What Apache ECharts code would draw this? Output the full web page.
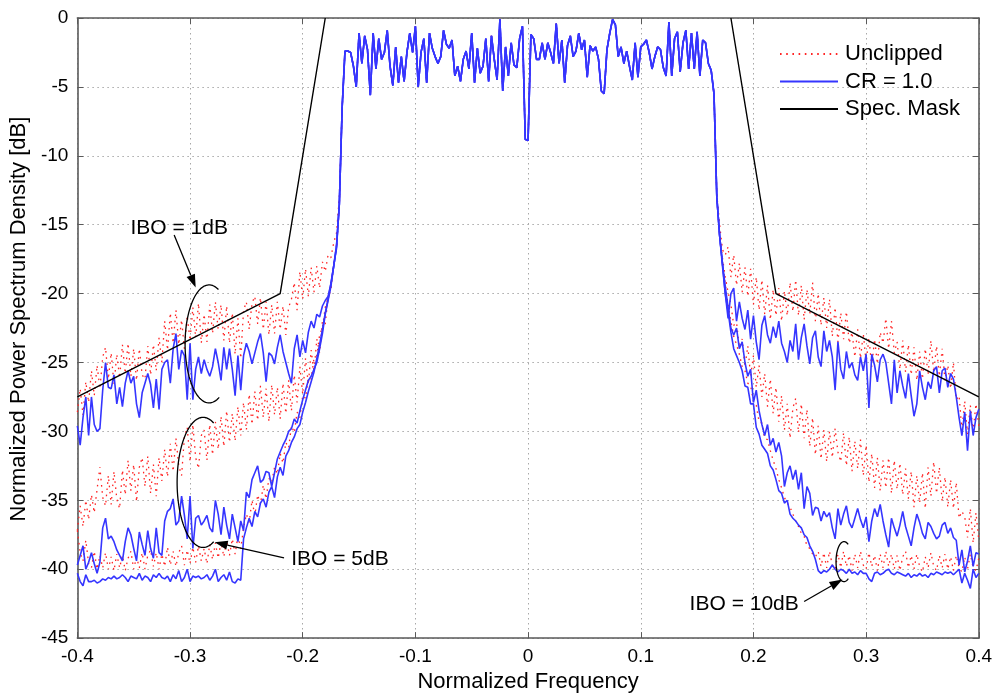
<!DOCTYPE html>
<html><head><meta charset="utf-8">
<script src="https://cdn.jsdelivr.net/npm/echarts@6/dist/echarts.min.js"></script>
<style>html,body{margin:0;padding:0;background:#fff}#c{width:995px;height:698px}</style>
</head><body><div id="c"></div>
<script>
// Frequency grid: x = -0.4 + k*0.0025, k = 0..320
const X_START = -0.4, X_STEP = 0.0025;

// In-band spectrum (shared by all curves), x = -0.1625 .. 0.1625
const inBand = [-2.4,-2.4,-2.5,-3.5,-5.0,-1.1,-3.3,-1.3,-2.3,-5.6,
 -1.1,-3.7,-1.5,-3.0,-2.5,-0.9,-3.5,-4.9,-2.1,-4.7,
 -2.8,-4.6,-2.5,-1.1,-2.5,-0.6,-5.0,-2.5,-1.5,-4.7,
 -1.1,-2.2,-2.8,-3.3,-2.8,-0.9,-1.9,-2.2,-1.6,-4.2,
 -3.5,-4.6,-3.0,-2.4,-3.7,-1.1,-4.7,-2.2,-4.0,-3.5,
 -1.5,-4.6,-1.3,-3.0,-4.5,-0.1,-5.3,-2.1,-4.2,-1.8,
 -3.4,-3.6,-1.5,-0.6,-8.8,-8.9,-1.2,-1.5,-3.0,-3.0,
 -1.8,-3.0,-1.8,-2.5,-3.3,-0.4,-3.3,-1.6,-4.7,-2.0,
 -1.3,-2.8,-2.4,-1.1,-2.3,-1.6,-4.3,-2.0,-2.4,-2.1,
 -3.0,-5.3,-5.5,-2.3,-1.1,-0.1,-0.5,-2.8,-2.1,-3.3,
 -2.4,-3.5,-4.5,-1.8,-4.3,-2.1,-1.9,-1.6,-2.5,-3.7,
 -2.8,-2.1,-2.3,-3.6,-4.2,-0.3,-4.2,-1.5,-1.0,-3.9,
 -1.8,-0.9,-3.7,-1.1,-3.7,-1.0,-4.2,-1.6,-1.8,-3.3,
 -3.8];

// Out-of-band, left side x = -0.4 .. -0.165
const cr_ibo1_left = [-29.6,-31.0,-29.0,-27.5,-30.3,-27.5,-29.5,-30.0,-29.8,-27.0,
 -25.0,-26.8,-26.9,-25.9,-28.0,-26.8,-28.2,-26.5,-25.6,-26.5,
 -26.0,-28.0,-29.0,-27.2,-26.5,-25.8,-26.6,-28.3,-26.2,-28.4,
 -25.5,-25.0,-24.8,-26.5,-24.0,-22.9,-25.5,-24.1,-24.5,-27.7,
 -23.6,-27.7,-25.5,-24.6,-25.8,-24.8,-25.5,-26.0,-25.3,-24.0,
 -25.0,-26.3,-23.9,-25.5,-24.0,-25.5,-27.4,-24.5,-27.0,-24.5,
 -23.6,-24.2,-25.1,-24.3,-23.5,-22.9,-24.3,-26.4,-24.3,-24.5,
 -25.1,-23.9,-23.0,-24.2,-25.0,-25.8,-26.5,-24.0,-23.0,-24.6,
 -23.4,-24.3,-22.8,-22.0,-22.5,-21.5,-21.7,-20.9,-20.5,-20.2,
 -19.3,-18.0,-16.7,-13.5,-6.5];
const unc_ibo1_left = [-28.6,-26.9,-28.8,-26.4,-27.9,-25.6,-27.4,-25.2,-26.9,-24.6,
 -23.9,-26.2,-24.3,-26.6,-24.4,-26.1,-23.7,-25.8,-23.6,-26.0,
 -24.0,-26.3,-24.0,-25.9,-26.2,-23.8,-25.9,-23.7,-25.6,-23.2,
 -25.0,-22.0,-24.1,-21.4,-23.6,-21.2,-23.7,-21.9,-24.0,-21.6,
 -23.4,-21.0,-23.2,-20.7,-23.6,-21.5,-23.5,-20.8,-22.9,-20.6,
 -22.6,-20.8,-23.4,-20.9,-23.6,-21.4,-24.4,-21.8,-24.7,-21.2,
 -20.6,-22.6,-20.7,-20.2,-22.2,-20.3,-22.6,-20.6,-23.0,-20.8,
 -22.9,-20.6,-22.6,-20.9,-23.0,-21.0,-20.4,-19.2,-21.2,-18.4,
 -20.4,-18.2,-20.2,-18.1,-19.9,-18.0,-19.6,-17.7,-18.4,-17.2,
 -17.4,-16.3,-15.6,-13.0,-6.5];
const cr_ibo5_left = [-39.7,-39.0,-38.3,-40.0,-39.5,-38.8,-39.6,-40.3,-39.5,-37.0,
 -36.3,-37.8,-37.6,-38.0,-38.6,-39.0,-39.4,-38.0,-37.0,-37.5,
 -38.5,-39.4,-37.3,-38.2,-39.0,-37.2,-38.5,-39.2,-37.0,-38.8,
 -39.0,-36.5,-35.8,-35.6,-34.9,-36.8,-36.5,-34.7,-36.1,-37.8,
 -34.7,-38.5,-36.3,-36.1,-36.8,-36.5,-36.1,-37.0,-37.3,-35.0,
 -36.0,-37.5,-35.5,-36.8,-37.8,-36.0,-37.0,-38.0,-36.5,-37.2,
 -34.4,-34.8,-33.5,-33.0,-32.5,-33.7,-33.5,-32.9,-33.0,-34.0,
 -33.0,-32.0,-31.5,-31.0,-30.6,-30.0,-29.8,-29.1,-29.4,-28.5,
 -27.7,-27.0,-26.3,-26.0,-25.5,-25.0,-24.0,-22.9,-21.5,-20.5,
 -19.5,-18.0,-16.5,-13.5,-6.5];
const unc_ibo5_left = [-37.2,-35.4,-36.9,-35.0,-36.4,-34.6,-35.9,-34.2,-32.6,-34.8,
 -35.4,-33.2,-35.3,-32.9,-34.9,-35.6,-32.8,-34.6,-32.1,-34.3,
 -32.4,-35.1,-32.6,-31.9,-34.0,-31.8,-34.5,-32.4,-34.7,-31.9,
 -33.6,-31.3,-33.3,-30.9,-32.9,-30.5,-32.5,-33.2,-30.4,-29.7,
 -32.2,-29.5,-31.9,-32.7,-30.3,-29.9,-32.1,-29.5,-31.7,-29.3,
 -31.3,-28.9,-31.1,-28.5,-30.8,-28.7,-30.7,-28.2,-30.3,-27.9,
 -29.9,-27.3,-29.5,-27.1,-29.2,-26.7,-29.0,-26.9,-29.3,-26.6,
 -28.8,-26.8,-29.1,-26.5,-28.7,-26.3,-28.5,-25.9,-27.9,-25.3,
 -27.3,-24.7,-26.6,-24.1,-25.7,-23.3,-24.3,-22.0,-22.2,-20.2,
 -19.8,-17.8,-16.8,-13.6,-6.6];
const cr_ibo10_left = [-40.3,-40.9,-41.2,-40.4,-40.9,-40.9,-40.8,-41.0,-40.9,-40.7,
 -40.8,-40.6,-40.7,-40.5,-40.7,-40.6,-40.4,-40.6,-40.9,-40.5,
 -40.6,-40.7,-40.3,-40.8,-40.5,-40.6,-40.9,-40.4,-40.6,-40.3,
 -40.6,-40.7,-40.5,-40.9,-40.4,-40.7,-40.1,-40.9,-40.6,-40.0,
 -40.9,-40.5,-40.6,-40.5,-40.7,-40.6,-40.4,-40.8,-40.5,-40.0,
 -40.9,-40.6,-40.4,-40.8,-40.2,-40.9,-41.0,-40.7,-40.8,-37.8,
 -37.0,-36.3,-36.9,-35.8,-36.2,-35.2,-34.9,-35.5,-34.4,-34.0,
 -34.8,-33.3,-32.6,-33.2,-31.8,-31.4,-30.8,-30.4,-29.8,-29.5,
 -28.6,-27.9,-27.1,-26.4,-25.7,-24.7,-23.7,-22.6,-21.4,-20.4,
 -19.3,-18.0,-16.6,-13.5,-6.5];
const unc_ibo10_left = [-37.2,-38.8,-39.4,-37.9,-39.6,-39.9,-38.7,-40.0,-39.0,-39.9,
 -38.8,-40.0,-39.1,-40.1,-38.9,-39.9,-39.0,-40.1,-39.2,-38.7,
 -40.0,-39.1,-39.9,-38.8,-40.0,-39.0,-38.6,-39.8,-38.8,-40.0,
 -38.9,-39.8,-38.4,-39.7,-38.7,-39.8,-38.8,-38.3,-39.7,-38.6,
 -39.6,-38.4,-39.5,-38.3,-39.4,-38.5,-39.6,-38.2,-39.3,-38.1,
 -39.2,-38.0,-39.1,-37.9,-39.0,-37.8,-38.9,-37.6,-38.5,-37.0,
 -36.0,-36.6,-35.0,-36.1,-34.6,-35.3,-33.9,-34.9,-33.4,-33.7,
 -32.6,-33.1,-31.6,-32.3,-30.8,-31.2,-29.6,-30.1,-28.6,-29.0,
 -27.4,-27.6,-26.1,-26.2,-24.7,-24.5,-23.0,-22.5,-21.0,-20.3,
 -19.2,-17.9,-16.5,-13.5,-6.5];

// Out-of-band, right side x = 0.165 .. 0.4
const cr_ibo1_right = [-5.5,-13.0,-15.8,-17.8,-20.0,-21.8,-20.0,-19.6,-22.0,-20.6,
 -21.8,-22.6,-21.2,-23.3,-21.6,-23.5,-24.8,-22.3,-21.6,-23.0,
 -23.6,-22.4,-23.2,-22.0,-23.6,-24.2,-25.0,-23.4,-24.2,-22.2,
 -24.8,-23.2,-22.2,-23.8,-25.1,-23.2,-22.7,-24.6,-25.3,-22.7,
 -24.2,-23.4,-24.6,-27.0,-23.5,-25.5,-26.2,-24.2,-25.4,-25.0,
 -25.9,-26.3,-24.6,-25.6,-24.4,-28.3,-24.4,-25.2,-26.4,-24.8,
 -24.4,-25.0,-26.5,-28.0,-24.8,-27.2,-25.6,-26.7,-27.6,-25.8,
 -27.4,-28.9,-28.0,-25.6,-26.8,-27.7,-26.4,-26.9,-25.6,-25.3,
 -27.2,-25.6,-25.4,-26.8,-25.8,-26.2,-27.5,-29.0,-30.3,-28.6,
 -31.4,-28.5,-30.3,-29.0,-28.4];
const unc_ibo1_right = [-5.5,-12.8,-15.0,-16.8,-17.2,-16.6,-18.8,-17.2,-19.4,-17.8,
 -19.9,-18.1,-20.2,-18.2,-20.8,-18.8,-21.2,-19.0,-21.5,-19.4,
 -21.9,-19.7,-21.6,-19.6,-22.0,-19.8,-21.6,-19.2,-21.3,-19.0,
 -21.6,-19.4,-21.9,-19.7,-21.5,-19.2,-22.0,-20.0,-22.3,-20.3,
 -22.5,-20.4,-23.1,-21.0,-23.5,-21.4,-23.3,-21.3,-23.6,-22.8,
 -24.6,-22.6,-24.7,-22.9,-25.0,-23.2,-25.3,-23.3,-25.1,-22.8,
 -23.6,-21.8,-24.0,-22.0,-24.3,-23.5,-25.5,-23.4,-25.7,-23.7,
 -25.9,-23.9,-26.3,-24.2,-26.2,-24.0,-25.9,-23.4,-25.7,-23.8,
 -26.0,-24.0,-26.3,-25.2,-26.9,-25.0,-27.7,-27.4,-29.9,-27.8,
 -30.2,-28.1,-30.0,-28.0,-29.6];
const cr_ibo5_right = [-5.5,-13.0,-15.8,-17.8,-19.5,-21.0,-22.5,-23.0,-22.5,-24.0,
 -23.5,-25.0,-26.0,-25.5,-27.9,-27.0,-28.5,-29.5,-30.3,-29.5,
 -31.0,-30.5,-31.5,-30.8,-31.8,-34.0,-33.0,-32.5,-33.5,-32.8,
 -34.2,-33.0,-35.6,-34.0,-34.5,-36.1,-35.5,-35.6,-36.5,-35.8,
 -36.2,-35.9,-37.0,-37.8,-35.6,-36.8,-36.0,-35.4,-36.6,-37.0,
 -36.3,-35.6,-36.4,-37.0,-36.2,-38.0,-36.5,-35.6,-36.2,-35.3,
 -36.5,-37.5,-38.4,-36.3,-37.0,-37.6,-36.8,-35.8,-36.9,-37.6,
 -38.3,-37.0,-36.0,-36.6,-37.4,-37.8,-36.6,-36.9,-37.4,-37.8,
 -37.6,-36.8,-36.6,-37.4,-37.0,-37.7,-37.9,-39.7,-38.6,-40.2,
 -39.4,-38.3,-39.8,-38.8,-38.9];
const unc_ibo5_right = [-5.5,-13.0,-15.8,-17.4,-18.8,-19.9,-20.8,-22.3,-22.1,-23.9,
 -23.3,-25.3,-23.8,-26.0,-24.5,-26.8,-25.2,-27.5,-25.8,-28.2,
 -26.2,-28.7,-26.8,-29.3,-27.4,-29.9,-28.0,-30.5,-28.3,-27.6,
 -30.1,-28.0,-30.5,-28.4,-31.1,-29.0,-31.7,-29.6,-32.0,-29.9,
 -32.2,-30.0,-31.9,-29.8,-31.5,-32.2,-30.1,-32.5,-30.4,-32.9,
 -30.7,-32.7,-30.6,-33.2,-31.0,-33.7,-31.6,-34.1,-31.9,-34.3,
 -32.1,-34.1,-31.9,-34.5,-32.1,-34.2,-32.3,-34.6,-32.7,-34.9,
 -32.9,-35.5,-33.2,-35.2,-33.0,-35.6,-32.6,-34.7,-32.2,-34.5,
 -32.6,-35.1,-33.3,-35.5,-33.5,-35.6,-33.7,-36.3,-35.8,-36.2,
 -37.7,-35.6,-38.1,-35.9,-37.9];
const cr_ibo10_right = [-5.5,-13.0,-15.8,-18.0,-20.0,-21.3,-22.8,-24.0,-24.5,-25.0,
 -25.6,-26.7,-26.8,-28.0,-28.0,-29.7,-30.2,-31.0,-31.3,-31.6,
 -32.5,-32.8,-33.5,-34.3,-34.5,-35.2,-35.0,-36.0,-36.3,-36.5,
 -36.8,-37.0,-37.5,-37.7,-38.3,-38.7,-39.3,-40.1,-40.3,-40.1,
 -40.2,-40.0,-39.7,-40.0,-40.2,-40.0,-40.1,-40.3,-40.0,-40.3,
 -40.2,-40.4,-40.1,-40.3,-40.3,-40.7,-40.9,-40.3,-40.2,-40.4,
 -40.3,-40.1,-40.0,-40.3,-40.4,-40.2,-40.3,-40.4,-40.5,-40.3,
 -40.6,-40.4,-40.5,-40.3,-40.5,-40.4,-40.6,-40.3,-40.4,-40.2,
 -40.3,-40.4,-40.2,-40.3,-40.2,-40.4,-40.2,-40.0,-41.0,-40.3,
 -40.8,-41.4,-40.0,-40.6,-40.3];
const unc_ibo10_right = [-5.5,-13.0,-15.8,-17.7,-19.3,-20.8,-22.0,-23.1,-23.7,-24.4,
 -25.3,-25.6,-26.5,-26.7,-27.8,-28.1,-29.3,-29.4,-30.5,-30.6,
 -31.4,-32.1,-32.7,-33.5,-34.1,-34.8,-35.2,-35.5,-36.0,-36.5,
 -36.9,-37.4,-37.6,-38.3,-38.5,-38.9,-39.1,-38.7,-39.8,-38.8,
 -39.9,-38.7,-39.7,-40.0,-38.9,-39.9,-38.7,-39.8,-39.0,-40.1,
 -38.9,-39.9,-38.7,-39.7,-40.0,-38.8,-39.8,-39.0,-40.1,-38.9,
 -39.9,-38.7,-39.8,-38.9,-40.0,-39.0,-40.1,-39.1,-38.7,-39.9,
 -39.0,-40.0,-38.9,-39.8,-40.2,-39.1,-39.9,-38.8,-39.8,-40.1,
 -39.0,-39.9,-38.9,-40.0,-39.1,-40.1,-39.0,-39.9,-40.2,-39.1,
 -40.0,-38.9,-39.9,-40.1,-39.2];

// Spectral mask corner points
const maskX = [-0.4, -0.22, -0.18, 0, 0.18, 0.22, 0.4];
const maskY = [-27.5, -20, 0, '-', 0, -20, -27.5];

// Axis ticks
const xTickInterval = 0.1, yTickInterval = 5;

// Annotations (data coordinates)
const annotations = [
  {text:'IBO = 1dB', textAt:[-0.3096,-15.25], from:[-0.3141,-15.74], to:[-0.2950,-19.55],
   center:[-0.2831,-23.65], rx:24, ry:59, a0:65, a1:295},
  {text:'IBO = 5dB', textAt:[-0.1670,-39.30], from:[-0.2166,-39.18], to:[-0.2782,-38.05],
   center:[-0.2884,-33.70], rx:26, ry:65, a0:66, a1:294},
  {text:'IBO = 10dB', textAt:[0.1918,-42.55], from:[0.2450,-42.34], to:[0.2790,-40.75],
   center:[0.2804,-39.45], rx:8, ry:20, a0:58, a1:302}
];

const RED = '#ff2424', BLUE = '#3535ff', FONT = '"Liberation Sans", Arial, Helvetica, sans-serif';

function build(left, right) {
  const ys = left.concat(inBand, right);
  return ys.map((y, k) => [+(X_START + k * X_STEP).toFixed(4), y]);
}

const redSets = [[unc_ibo1_left, unc_ibo1_right],[unc_ibo5_left, unc_ibo5_right],[unc_ibo10_left, unc_ibo10_right]];
const blueSets = [[cr_ibo1_left, cr_ibo1_right],[cr_ibo5_left, cr_ibo5_right],[cr_ibo10_left, cr_ibo10_right]];

const series = [];
redSets.forEach(s => series.push({
  name:'Unclipped', type:'line', data: build(s[0], s[1]), symbol:'none', animation:false,
  lineStyle:{color:RED, width:1.3, type:[1.6,4.6]}, itemStyle:{color:RED}, z:2
}));
blueSets.forEach(s => series.push({
  name:'CR = 1.0', type:'line', data: build(s[0], s[1]), symbol:'none', animation:false,
  lineStyle:{color:BLUE, width:1.6}, itemStyle:{color:BLUE}, z:3
}));
series.push({
  name:'Spec. Mask', type:'line', data: maskX.map((x,i)=>[x, maskY[i]]), symbol:'none', animation:false,
  connectNulls:false, lineStyle:{color:'#000', width:1.4}, itemStyle:{color:'#000'}, z:4
});

const frame = {color:'#5a5a5a', width:1.6};
const chart = echarts.init(document.getElementById('c'), null, {renderer:'canvas'});
chart.setOption({
  animation:false,
  backgroundColor:'#fff',
  grid:{left:77, right:15, top:18, bottom:54, containLabel:false},
  legend:{
    data:['Unclipped','CR = 1.0','Spec. Mask'], orient:'vertical', left:779, top:43,
    itemWidth:58, itemHeight:14, itemGap:5.5, padding:0,
    itemStyle:{opacity:0},
    textStyle:{fontSize:22, fontFamily:FONT, color:'#000', padding:[0,0,0,2]}
  },
  xAxis:[
    {type:'value', min:-0.4, max:0.4, interval:xTickInterval, position:'bottom',
     name:'Normalized Frequency', nameLocation:'middle', nameGap:30,
     nameTextStyle:{fontSize:22, fontFamily:FONT, color:'#000'},
     axisLine:{onZero:false, lineStyle:frame},
     axisTick:{inside:true, length:6, lineStyle:{color:'#5a5a5a', width:1}},
     axisLabel:{fontSize:19, fontFamily:FONT, color:'#000', margin:9},
     splitLine:{show:true, lineStyle:{color:'#a8a8a8', width:1, type:[1.5,3.5]}}},
    {type:'value', min:-0.4, max:0.4, interval:xTickInterval, position:'top',
     axisLine:{onZero:false, lineStyle:frame},
     axisTick:{inside:true, length:6, lineStyle:{color:'#5a5a5a', width:1}},
     axisLabel:{show:false}, splitLine:{show:false}}
  ],
  yAxis:[
    {type:'value', min:-45, max:0, interval:yTickInterval, position:'left',
     name:'Normalized Power Spectrum Density [dB]', nameLocation:'middle', nameGap:46,
     nameTextStyle:{fontSize:22, fontFamily:FONT, color:'#000', padding:[0,0,0,18]},
     axisLine:{onZero:false, lineStyle:frame},
     axisTick:{inside:true, length:6, lineStyle:{color:'#5a5a5a', width:1}},
     axisLabel:{fontSize:19, fontFamily:FONT, color:'#000', margin:9},
     splitLine:{show:true, lineStyle:{color:'#a8a8a8', width:1, type:[1.5,3.5]}}},
    {type:'value', min:-45, max:0, interval:yTickInterval, position:'right',
     axisLine:{onZero:false, lineStyle:frame},
     axisTick:{inside:true, length:6, lineStyle:{color:'#5a5a5a', width:1}},
     axisLabel:{show:false}, splitLine:{show:false}}
  ],
  series: series
});

// Annotation graphics positioned from data coordinates
function toPx(p){ return chart.convertToPixel({xAxisIndex:0, yAxisIndex:0}, p); }
const graphics = [];
annotations.forEach(a => {
  const c = toPx(a.center);
  const pts = [];
  for (let t = a.a0; t <= a.a1 + 0.01; t += 3) {
    const r = t * Math.PI / 180;
    pts.push([c[0] + a.rx * Math.cos(r), c[1] + a.ry * Math.sin(r)]);
  }
  graphics.push({type:'polyline', shape:{points:pts}, style:{stroke:'#000', lineWidth:1.3, fill:null}, z:100});
  const f = toPx(a.from), t = toPx(a.to);
  const dx = t[0]-f[0], dy = t[1]-f[1], L = Math.hypot(dx, dy), ux = dx/L, uy = dy/L;
  const HL = 13, HW = 4.5;
  const bx = t[0]-ux*HL, by = t[1]-uy*HL;
  graphics.push({type:'line', shape:{x1:f[0], y1:f[1], x2:bx, y2:by}, style:{stroke:'#000', lineWidth:1.3}, z:100});
  graphics.push({type:'polygon', shape:{points:[[t[0],t[1]],[bx-uy*HW, by+ux*HW],[bx+uy*HW, by-ux*HW]]}, style:{fill:'#000'}, z:100});
  const tp = toPx(a.textAt);
  graphics.push({type:'text', x:tp[0], y:tp[1], z:100,
    style:{text:a.text, fontSize:21, fontFamily:FONT, fill:'#000', textAlign:'center', textVerticalAlign:'middle', verticalAlign:'middle'}});
});
chart.setOption({graphic: graphics});
</script></body></html>
